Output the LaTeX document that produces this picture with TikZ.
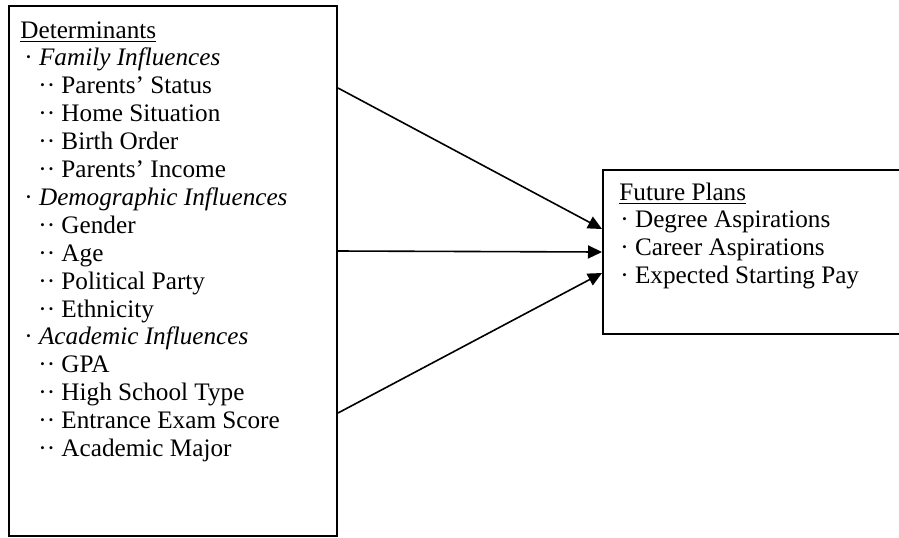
\documentclass[tikz,border=0pt]{standalone}
\usepackage{fontspec}
\setmainfont{Liberation Serif}
\usetikzlibrary{arrows.meta,calc}
\begin{document}
\begin{tikzpicture}[x=0.5pt,y=-0.5pt,
  box/.style={draw,line width=1pt,rectangle,inner sep=0pt,anchor=north west},
  txt/.style={anchor=base west,inner sep=0pt,font=\fontsize{12.6pt}{14pt}\selectfont},
  conn/.style={line width=0.8pt,-{Triangle[length=7pt,width=6.5pt]}}]
\useasboundingbox (0,0) rectangle (899,537);
\clip (0,0) rectangle (899,537);
% boxes
\node[box,minimum width=328.5pt*0.5,minimum height=530pt*0.5] (L) at (7.5,5) {};
\node[box,minimum width=300pt*0.5,minimum height=164pt*0.5] (R) at (602,169) {};
% left text
\foreach \xx/\t [count=\i] in {
  20/{\underline{Determinants}},
  24/{· \textit{Family Influences}},
  38/{·· Parents’ Status},
  38/{·· Home Situation},
  38/{·· Birth Order},
  38/{·· Parents’ Income},
  24/{· \textit{Demographic Influences}},
  38/{·· Gender},
  38/{·· Age},
  38/{·· Political Party},
  38/{·· Ethnicity},
  24/{· \textit{Academic Influences}},
  38/{·· GPA},
  38/{·· High School Type},
  38/{·· Entrance Exam Score},
  38/{·· Academic Major}}
  \node[txt] (l\i) at (\xx,{38+27.9*(\i-1)}) {\t};
% right text
\foreach \xx/\t [count=\i] in {
  619/{\underline{Future Plans}},
  620/{· Degree Aspirations},
  620/{· Career Aspirations},
  620/{· Expected Starting Pay}}
  \node[txt] (r\i) at (\xx,{200+27.7*(\i-1)}) {\t};
% connector end points on box edges
\coordinate (a1) at (L.east |- 0,88);
\coordinate (a2) at (L.east |- 0,251);
\coordinate (a3) at (L.east |- 0,413);
\coordinate (b1) at (R.west |- 0,229);
\coordinate (b2) at (R.west |- 0,252);
\coordinate (b3) at (R.west |- 0,273);
\draw[conn] (a1) -- (b1);
\draw[conn] (a2) -- (b2);
\draw[conn] (a3) -- (b3);
\end{tikzpicture}
\end{document}
